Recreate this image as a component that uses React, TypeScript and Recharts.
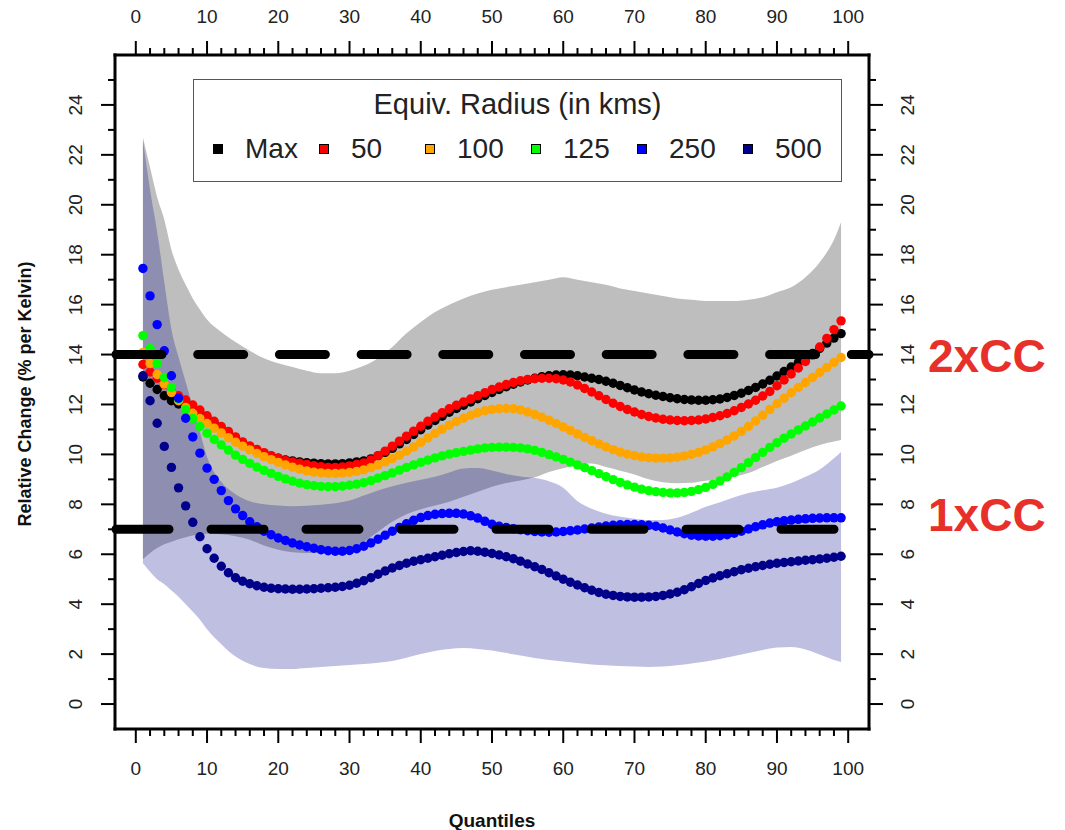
import React from "react";
import { Area, ComposedChart, Legend, ReferenceLine, Scatter, XAxis, YAxis } from "recharts";

const FONT = '"Liberation Sans", Arial, Helvetica, sans-serif';

// quantile positions of the dots
const quantiles = Array.from({ length: 99 }, (_, i) => i + 1);

const maxVals = [
  13.1, 12.85, 12.6, 12.35, 12.15, 12.02, 11.92, 11.82, 11.66, 11.45,
  11.23, 11.02, 10.82, 10.61, 10.42, 10.27, 10.14, 10.03, 9.93, 9.85,
  9.78, 9.74, 9.7, 9.67, 9.65, 9.63, 9.62, 9.62, 9.63, 9.66,
  9.7, 9.74, 9.82, 9.94, 10.08, 10.24, 10.42, 10.6, 10.8, 10.99,
  11.18, 11.36, 11.53, 11.69, 11.84, 11.97, 12.1, 12.23, 12.36, 12.48,
  12.6, 12.71, 12.81, 12.9, 12.98, 13.05, 13.11, 13.15, 13.18, 13.19,
  13.18, 13.15, 13.1, 13.05, 13.0, 12.93, 12.85, 12.76, 12.67, 12.58,
  12.5, 12.43, 12.37, 12.32, 12.27, 12.23, 12.2, 12.18, 12.17, 12.17,
  12.19, 12.22, 12.28, 12.36, 12.45, 12.56, 12.68, 12.82, 12.97, 13.14,
  13.32, 13.5, 13.68, 13.86, 14.04, 14.25, 14.46, 14.66, 14.84,
];

const r50 = [
  13.6, 13.3, 13.05, 12.8, 12.55, 12.35, 12.18, 11.98, 11.78, 11.55,
  11.33, 11.12, 10.92, 10.7, 10.5, 10.34, 10.2, 10.07, 9.95, 9.85,
  9.76, 9.7, 9.65, 9.6, 9.55, 9.51, 9.48, 9.48, 9.5, 9.54,
  9.6, 9.66, 9.78, 9.95, 10.13, 10.33, 10.53, 10.73, 10.93, 11.13,
  11.33, 11.5, 11.67, 11.83, 11.97, 12.1, 12.22, 12.35, 12.47, 12.6,
  12.7, 12.8, 12.88, 12.95, 13.0, 13.03, 13.05, 13.05, 13.03, 12.98,
  12.9, 12.78, 12.64, 12.5, 12.35, 12.2, 12.05, 11.92, 11.8, 11.7,
  11.6, 11.52, 11.46, 11.41, 11.38, 11.36, 11.35, 11.36, 11.38, 11.42,
  11.48, 11.55, 11.64, 11.75, 11.88, 12.02, 12.17, 12.34, 12.52, 12.75,
  12.98, 13.22, 13.46, 13.72, 13.98, 14.3, 14.65, 15.0, 15.35,
];

const r100 = [
  14.08, 13.64, 13.2, 12.82, 12.48, 12.15, 11.88, 11.65, 11.44, 11.24,
  11.05, 10.86, 10.67, 10.49, 10.33, 10.18, 10.04, 9.91, 9.79, 9.68,
  9.58, 9.49, 9.41, 9.34, 9.29, 9.26, 9.24, 9.24, 9.25, 9.28,
  9.32, 9.38, 9.47, 9.58, 9.7, 9.83, 9.97, 10.13, 10.3, 10.48,
  10.66, 10.84, 11.01, 11.17, 11.32, 11.45, 11.57, 11.67, 11.75, 11.8,
  11.83, 11.84, 11.83, 11.78, 11.7, 11.6, 11.49, 11.37, 11.24, 11.1,
  10.96, 10.82, 10.68, 10.55, 10.42, 10.3, 10.19, 10.09, 10.01, 9.95,
  9.9, 9.87, 9.85, 9.85, 9.86, 9.89, 9.94, 10.0, 10.08, 10.18,
  10.3, 10.43, 10.58, 10.74, 10.92, 11.12, 11.34, 11.57, 11.8, 12.03,
  12.25, 12.47, 12.68, 12.88, 13.08, 13.28, 13.48, 13.68, 13.88,
];

const r125 = [
  14.76, 14.24, 13.64, 13.08, 12.68, 12.22, 11.8, 11.44, 11.12, 10.85,
  10.6, 10.38, 10.17, 9.97, 9.8, 9.64, 9.49, 9.36, 9.24, 9.12,
  9.02, 8.93, 8.85, 8.79, 8.75, 8.72, 8.71, 8.71, 8.73, 8.77,
  8.81, 8.87, 8.95, 9.05, 9.15, 9.26, 9.37, 9.48, 9.58, 9.68,
  9.77, 9.86, 9.94, 10.01, 10.07, 10.12, 10.17, 10.22, 10.26, 10.28,
  10.29, 10.29, 10.28, 10.26, 10.22, 10.16, 10.08, 9.99, 9.9, 9.8,
  9.69, 9.58, 9.47, 9.35, 9.23, 9.11, 8.99, 8.88, 8.78, 8.69,
  8.61, 8.55, 8.51, 8.48, 8.46, 8.46, 8.48, 8.52, 8.59, 8.68,
  8.8, 8.94, 9.1, 9.28, 9.47, 9.67, 9.88, 10.08, 10.28, 10.47,
  10.65, 10.82, 10.98, 11.14, 11.3, 11.46, 11.62, 11.78, 11.94,
];

const r250 = [
  17.45, 16.35, 15.2, 14.15, 13.15, 12.25, 11.45, 10.7, 10.05, 9.45,
  9.0, 8.55, 8.15, 7.82, 7.55, 7.3, 7.1, 6.92, 6.78, 6.65,
  6.55, 6.45, 6.37, 6.3, 6.24, 6.18, 6.14, 6.12, 6.12, 6.15,
  6.22, 6.32, 6.45, 6.6, 6.76, 6.92, 7.07, 7.22, 7.36, 7.47,
  7.55, 7.6, 7.63, 7.64, 7.64, 7.61, 7.54, 7.45, 7.32, 7.2,
  7.12, 7.07, 7.02, 6.98, 6.94, 6.91, 6.89, 6.88, 6.89, 6.91,
  6.94, 6.97, 7.01, 7.05, 7.09, 7.13, 7.16, 7.18, 7.19, 7.19,
  7.18, 7.16, 7.12, 7.05, 6.97, 6.89, 6.82, 6.76, 6.73, 6.72,
  6.72, 6.74, 6.78, 6.84, 6.92, 7.01, 7.1, 7.18, 7.25, 7.3,
  7.34, 7.37, 7.4, 7.42, 7.44, 7.45, 7.46, 7.46, 7.46,
];

const r500 = [
  13.15, 12.15, 11.25, 10.32, 9.48, 8.66, 7.94, 7.28, 6.7, 6.22,
  5.84, 5.52, 5.26, 5.06, 4.92, 4.82, 4.74, 4.68, 4.64, 4.62,
  4.61, 4.6, 4.6, 4.61, 4.62, 4.64, 4.66, 4.68, 4.71, 4.76,
  4.84, 4.94, 5.06, 5.2, 5.33, 5.45, 5.55, 5.64, 5.72, 5.78,
  5.84, 5.9, 5.96, 6.02, 6.07, 6.11, 6.14, 6.12, 6.08, 6.03,
  5.97, 5.9, 5.82, 5.72, 5.61, 5.5, 5.39, 5.26, 5.13, 5.0,
  4.88, 4.77, 4.66, 4.56, 4.47, 4.4, 4.35, 4.31, 4.29, 4.28,
  4.28, 4.29, 4.31, 4.35, 4.41, 4.48, 4.58, 4.7, 4.83, 4.95,
  5.05, 5.14, 5.22, 5.3, 5.38, 5.44, 5.5, 5.55, 5.6, 5.64,
  5.67, 5.7, 5.73, 5.76, 5.78, 5.81, 5.84, 5.88, 5.92,
];

// uncertainty bands (Max in grey, 500 km in navy)
const bandQ = [
  1, 2, 3, 4, 5, 6, 7, 8, 9, 10, 12, 14, 16, 18, 20, 22, 24, 26, 28, 30,
  32, 34, 36, 38, 40, 42, 44, 46, 48, 50, 52, 54, 56, 58, 60, 62, 64, 66, 68, 70,
  72, 74, 76, 78, 80, 82, 84, 86, 88, 90, 92, 94, 96, 98, 99,
];
const greyHi = [
  22.7, 21.5, 20.3, 19.4, 18.2, 17.4, 16.8, 16.25, 15.8, 15.4, 14.9, 14.5, 14.15, 13.85, 13.65, 13.5, 13.35, 13.25, 13.25, 13.35,
  13.55, 13.85, 14.3, 14.85, 15.3, 15.7, 16.0, 16.25, 16.45, 16.6, 16.7, 16.8, 16.9, 17.0, 17.1, 17.0, 16.9, 16.8, 16.65, 16.55,
  16.45, 16.35, 16.25, 16.2, 16.15, 16.15, 16.15, 16.2, 16.3, 16.5, 16.7, 17.1, 17.7, 18.6, 19.3,
];
const greyLo = [
  5.8, 6.05, 6.25, 6.4, 6.5, 6.6, 6.68, 6.75, 6.8, 6.82, 6.8, 6.72, 6.58, 6.35, 6.18, 6.08, 6.05, 6.05, 6.1, 6.25,
  6.5, 6.9, 7.3, 7.6, 7.8, 7.95, 8.1, 8.3, 8.5, 8.7, 8.85, 8.95, 9.08, 9.3, 9.45, 9.58, 9.64, 9.5, 9.35, 9.2,
  9.0, 8.88, 8.84, 8.86, 8.94, 9.0, 9.12, 9.26, 9.5, 9.74, 9.95, 10.18, 10.38, 10.52, 10.58,
];
const navyHi = [
  22.6, 20.6, 18.9, 16.9, 15.0, 13.9, 12.9, 11.9, 10.9, 9.9, 8.9, 8.4, 8.12, 8.0, 7.95, 7.92, 7.94, 7.98, 8.04, 8.15,
  8.35, 8.55, 8.72, 8.86, 8.98, 9.1, 9.28, 9.44, 9.46, 9.36, 9.22, 9.12, 9.06, 8.92, 8.66, 8.12, 7.82, 7.62, 7.5, 7.42,
  7.37, 7.37, 7.46, 7.66, 7.9, 8.08, 8.28, 8.45, 8.56, 8.66, 8.85, 9.1, 9.4, 9.85, 10.1,
];
const navyLo = [
  5.64, 5.3, 5.0, 4.8, 4.55, 4.3, 4.0, 3.7, 3.38, 3.0, 2.4, 1.9, 1.6, 1.44, 1.4, 1.4, 1.44, 1.48, 1.52, 1.56,
  1.6, 1.65, 1.72, 1.85, 2.0, 2.12, 2.2, 2.24, 2.2, 2.14, 2.04, 1.94, 1.84, 1.76, 1.7, 1.64, 1.58, 1.55, 1.52, 1.5,
  1.48, 1.5, 1.55, 1.62, 1.7, 1.8, 1.92, 2.04, 2.16, 2.26, 2.28, 2.18, 1.98, 1.76, 1.68,
];

const xTicks = [
  0, 2, 4, 6, 8, 10, 12, 14, 16, 18, 20, 22, 24, 26, 28, 30, 32, 34, 36, 38, 40, 42, 44, 46, 48, 50,
  52, 54, 56, 58, 60, 62, 64, 66, 68, 70, 72, 74, 76, 78, 80, 82, 84, 86, 88, 90, 92, 94, 96, 98, 100,
];
const yTicks = [0, 1, 2, 3, 4, 5, 6, 7, 8, 9, 10, 11, 12, 13, 14, 15, 16, 17, 18, 19, 20, 21, 22, 23, 24, 25];

const series = [
  { name: "Max", color: "#000000", values: maxVals },
  { name: "50", color: "#ff0000", values: r50 },
  { name: "100", color: "#ffa500", values: r100 },
  { name: "125", color: "#00ff00", values: r125 },
  { name: "250", color: "#0000ff", values: r250 },
  { name: "500", color: "#00008b", values: r500 },
];

const toBand = (lo: number[], hi: number[]) => bandQ.map((q, i) => ({ q, lo: lo[i], hi: hi[i] }));

const tickText = { fontFamily: FONT, fontSize: 19, fill: "#222" };

function XTick({ x, y, payload, side }: any) {
  const v = payload.value;
  const major = v % 10 === 0;
  const dir = side === "top" ? -1 : 1;
  return (
    <g>
      <line x1={x} x2={x} y1={y} y2={y + dir * (major ? 14 : 7)} stroke="#000" strokeWidth={2} />
      {major && (
        <text x={x} y={y + dir * 39} textAnchor="middle" dominantBaseline="central" {...tickText}>
          {v}
        </text>
      )}
    </g>
  );
}

function YTick({ x, y, payload, side }: any) {
  const v = payload.value;
  const major = v % 2 === 0;
  const dir = side === "left" ? -1 : 1;
  const tx = x + dir * 39;
  return (
    <g>
      <line x1={x} x2={x + dir * (major ? 14 : 7)} y1={y} y2={y} stroke="#000" strokeWidth={2} />
      {major && (
        <text x={tx} y={y} transform={`rotate(-90 ${tx} ${y})`} textAnchor="middle" dominantBaseline="central" {...tickText}>
          {v}
        </text>
      )}
    </g>
  );
}

function LegendBox({ payload }: any) {
  const items = series.map((s) => {
    const p = (payload || []).find((e: any) => e.value === s.name);
    return { name: s.name, color: p?.color || s.color };
  });
  return (
    <div
      style={{
        width: 649,
        height: 103,
        boxSizing: "border-box",
        border: "1.5px solid #555",
        background: "#fff",
        position: "relative",
        fontFamily: FONT,
        color: "#222",
      }}
    >
      <div style={{ position: "absolute", left: 0, right: 0, top: 9, textAlign: "center", fontSize: 29, lineHeight: "30px" }}>
        Equiv. Radius (in kms)
      </div>
      {items.map((it, i) => (
        <React.Fragment key={it.name}>
          <span
            style={{
              position: "absolute",
              left: 19 + 106 * i,
              top: 64,
              width: 10,
              height: 10,
              boxSizing: "border-box",
              background: it.color,
              border: "1px solid #000",
            }}
          />
          <span style={{ position: "absolute", left: 51 + 106 * i, top: 54, fontSize: 28, lineHeight: "30px" }}>{it.name}</span>
        </React.Fragment>
      ))}
    </div>
  );
}

const ccLabel = (text: string, dy: number) => (props: any) => {
  const vb = props.viewBox || {};
  return (
    <text
      x={vb.x + vb.width + 59}
      y={vb.y + dy}
      dominantBaseline="central"
      fontFamily={FONT}
      fontWeight="bold"
      fontSize={46}
      fill="#e8302a"
    >
      {text}
    </text>
  );
};

const axisLine = { stroke: "#000", strokeWidth: 3, strokeLinecap: "square" as const };

export default function App() {
  return (
    <div style={{ position: "absolute", left: 0, top: 0, width: 1065, height: 830, background: "#fff" }}>
      <ComposedChart width={1065} height={830} margin={{ top: 15, right: 136, bottom: 61, left: 55 }}>
        <XAxis
          xAxisId={0}
          dataKey="q"
          type="number"
          domain={[-2.92, 102.92]}
          allowDataOverflow
          ticks={xTicks}
          interval={0}
          height={40}
          tickSize={0}
          tickMargin={0}
          tickLine={false}
          axisLine={axisLine}
          tick={(p: any) => <XTick {...p} side="bottom" />}
          label={{
            content: (p: any) => {
              const vb = p.viewBox || {};
              return (
                <text x={vb.x + vb.width / 2} y={vb.y + 91} textAnchor="middle" dominantBaseline="central" fontFamily={FONT} fontWeight="bold" fontSize={19} fill="#111">
                  Quantiles
                </text>
              );
            },
          }}
        />
        <XAxis
          xAxisId="top"
          orientation="top"
          dataKey="q"
          type="number"
          domain={[-2.92, 102.92]}
          allowDataOverflow
          ticks={xTicks}
          interval={0}
          height={40}
          tickSize={0}
          tickMargin={0}
          tickLine={false}
          axisLine={axisLine}
          tick={(p: any) => <XTick {...p} side="top" />}
        />
        <YAxis
          yAxisId={0}
          type="number"
          domain={[-1, 26]}
          allowDataOverflow
          ticks={yTicks}
          interval={0}
          width={60}
          tickSize={0}
          tickMargin={0}
          tickLine={false}
          axisLine={axisLine}
          tick={(p: any) => <YTick {...p} side="left" />}
          label={{
            content: (p: any) => {
              const vb = p.viewBox || {};
              const cx = vb.x - 30;
              const cy = vb.y + vb.height / 2 + 2;
              return (
                <text x={cx} y={cy} transform={`rotate(-90 ${cx} ${cy})`} textAnchor="middle" dominantBaseline="central" fontFamily={FONT} fontWeight="bold" fontSize={18} fill="#111">
                  Relative Change (% per Kelvin)
                </text>
              );
            },
          }}
        />
        <YAxis
          yAxisId="right"
          orientation="right"
          type="number"
          domain={[-1, 26]}
          allowDataOverflow
          ticks={yTicks}
          interval={0}
          width={60}
          tickSize={0}
          tickMargin={0}
          tickLine={false}
          axisLine={axisLine}
          tick={(p: any) => <YTick {...p} side="right" />}
        />

        <Area
          data={toBand(greyLo, greyHi)}
          dataKey={(d: any) => [d.lo, d.hi]}
          type="monotone"
          stroke="none"
          fill="#bebebe"
          fillOpacity={1}
          legendType="none"
          isAnimationActive={false}
        />
        <Area
          data={toBand(navyLo, navyHi)}
          dataKey={(d: any) => [d.lo, d.hi]}
          type="monotone"
          stroke="none"
          fill="#00008b"
          fillOpacity={0.25}
          legendType="none"
          isAnimationActive={false}
        />

        {series.map((s) => (
          <Scatter
            key={s.name}
            name={s.name}
            data={quantiles.map((q, i) => ({ q, v: s.values[i] }))}
            dataKey="v"
            fill={s.color}
            legendType="square"
            isAnimationActive={false}
            shape={(p: any) => <circle cx={p.cx} cy={p.cy} r={4.7} fill={s.color} />}
          />
        ))}

        <ReferenceLine
          y={14}
          zIndex={1000}
          stroke="#000"
          strokeWidth={9}
          strokeDasharray="46 35.7"
          strokeDashoffset={80.7}
          strokeLinecap="round"
          label={{ content: ccLabel("2xCC", 1) }}
        />
        <ReferenceLine
          y={7}
          zIndex={1000}
          stroke="#000"
          strokeWidth={9}
          strokeDasharray="53 42"
          strokeDashoffset={94}
          strokeLinecap="round"
          label={{ content: ccLabel("1xCC", -14) }}
        />

        <Legend
          layout="horizontal"
          verticalAlign="middle"
          align="center"
          wrapperStyle={{ position: "absolute", left: 193, top: 79, width: 649, height: 103 }}
          content={(p: any) => <LegendBox {...p} />}
        />
      </ComposedChart>
    </div>
  );
}
